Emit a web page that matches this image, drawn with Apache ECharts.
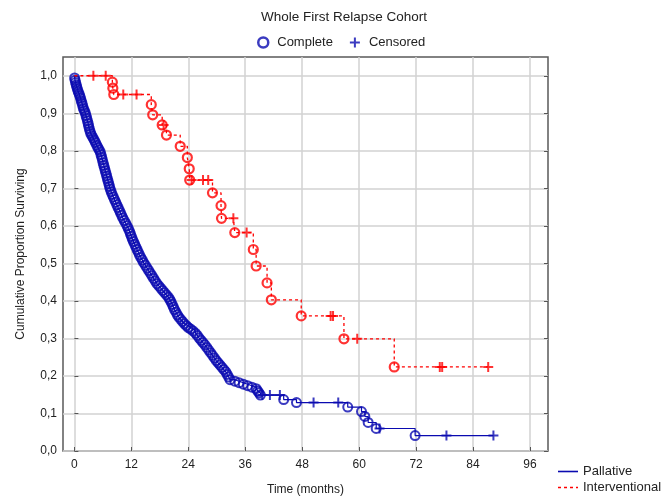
<!DOCTYPE html>
<html>
<head>
<meta charset="utf-8">
<script src="https://cdn.jsdelivr.net/npm/echarts@6/dist/echarts.min.js"></script>
<style>
  html, body { margin: 0; padding: 0; background: #fff; }
  #chart { width: 664px; height: 498px; }
</style>
</head>
<body>
<div id="chart"></div>
<script>
  // tick labels
  var xTicks = [0, 12, 24, 36, 48, 60, 72, 84, 96];
  var yTicks = [0, 0.1, 0.2, 0.3, 0.4, 0.5, 0.6, 0.7, 0.8, 0.9, 1.0];

  // Pallative group: [months, proportion surviving]
  var palliativeEvents = [
    [0.05, .994], [0.15, .988], [0.25, .982], [0.4, .976], [0.5, .970], [0.65, .964],
    [0.8, .958], [1.0, .952], [1.15, .946], [1.3, .940], [1.45, .933], [1.6, .927],
    [1.75, .920], [1.9, .913], [2.1, .907], [2.3, .901], [2.45, .894], [2.6, .887],
    [2.75, .880], [2.9, .873], [3.0, .866], [3.15, .859], [3.3, .852], [3.45, .846],
    [3.7, .840], [3.95, .834], [4.2, .828], [4.45, .822], [4.7, .815], [4.95, .809],
    [5.2, .803], [5.45, .797], [5.6, .790], [5.75, .783], [5.9, .776], [6.05, .768],
    [6.2, .761], [6.35, .754], [6.5, .747], [6.65, .740], [6.8, .733], [6.95, .726],
    [7.1, .719], [7.25, .712], [7.4, .705], [7.55, .698], [7.75, .691], [7.95, .684],
    [8.2, .677], [8.45, .670], [8.7, .663], [8.95, .656], [9.2, .649], [9.45, .642],
    [9.7, .635], [9.95, .628], [10.2, .621], [10.5, .614], [10.8, .607], [11.1, .600],
    [11.35, .593], [11.6, .586], [11.8, .579], [12.0, .572], [12.2, .565], [12.45, .558],
    [12.7, .551], [12.95, .544], [13.2, .537], [13.45, .530], [13.7, .523], [14.0, .516],
    [14.3, .509], [14.6, .502], [14.95, .495], [15.3, .488], [15.65, .481], [16.0, .474],
    [16.35, .467], [16.7, .460], [17.05, .453], [17.4, .446], [17.8, .440], [18.2, .434],
    [18.6, .428], [19.0, .422], [19.4, .416], [19.8, .410], [20.1, .404], [20.35, .398],
    [20.6, .391], [20.85, .384], [21.1, .377], [21.4, .370], [21.7, .363], [22.0, .357],
    [22.4, .351], [22.8, .345], [23.2, .339], [23.6, .334], [24.0, .329], [24.5, .325],
    [25.0, .320], [25.5, .314], [25.9, .308], [26.3, .301], [26.7, .295], [27.1, .289],
    [27.5, .283], [27.9, .276], [28.3, .269], [28.7, .262], [29.1, .255], [29.5, .248],
    [29.9, .241], [30.3, .235], [30.7, .229], [31.1, .223], [31.5, .217], [31.9, .211],
    [32.2, .204], [32.5, .197], [32.8, .190], [33.8, .186], [34.7, .182], [35.6, .178],
    [36.5, .174], [37.4, .170], [38.3, .166], [38.6, .160], [38.9, .155], [39.2, .149],
    [44.1, .137], [46.8, .129], [57.6, .117], [60.5, .105], [61.2, .092], [61.9, .076],
    [63.6, .060], [71.8, .041]
  ];
  var palliativeCensored = [
    [39.6, .149], [41.2, .149], [43.3, .149], [50.4, .129], [55.6, .129],
    [64.3, .060], [78.4, .041], [88.3, .041]
  ];

  // Interventional group
  var interventionalEvents = [
    [8.0, .983], [8.1, .967], [8.3, .950], [16.2, .923], [16.5, .896], [18.5, .869],
    [19.4, .842], [22.3, .812], [23.8, .782], [24.2, .752], [24.3, .722], [29.1, .688],
    [30.9, .654], [31.0, .620], [33.8, .582], [37.7, .537], [38.3, .493], [40.6, .448],
    [41.5, .403], [47.8, .360], [56.8, .299], [67.4, .224]
  ];
  var interventionalCensored = [
    [4.0, 1], [6.6, 1], [10.3, .950], [13.1, .950], [18.8, .869], [24.7, .722],
    [27.1, .722], [28.2, .722], [33.5, .620], [36.3, .582], [54.0, .360], [54.5, .360],
    [59.6, .299], [77.0, .224], [77.5, .224], [87.2, .224]
  ];

  var BLUE = '#0a0ab0';
  var RED = '#ff0000';
  var PLUS = 'path://M4,0H6V4H10V6H6V10H4V6H0V4H4Z';
  var SOLID_ICON = 'path://M0,0H20V1.6H0Z';
  var DASH_ICON = 'path://M0,0H3V1.6H0Z M6,0H9V1.6H6Z M12,0H15V1.6H12Z M18,0H20V1.6H18Z';
  var FONT = 'Liberation Sans, Arial, sans-serif';

  function kmLine(events, censored) {
    var pts = events.concat(censored).sort(function (a, b) { return a[0] - b[0]; });
    return [[0, 1]].concat(pts);
  }

  function comma(v) {
    return v.toFixed(1).replace('.', ',');
  }

  function lineLegend(name, icon, color, top) {
    return {
      left: 558,
      top: top,
      padding: 0,
      itemWidth: 20,
      itemHeight: 10,
      textStyle: { fontSize: 13, color: '#222', fontFamily: FONT },
      data: [{ name: name, icon: icon, itemStyle: { color: color, borderWidth: 0 } }]
    };
  }

  var chart = echarts.init(document.getElementById('chart'));

  chart.setOption({
    animation: false,
    backgroundColor: '#fff',
    textStyle: { fontFamily: FONT },
    title: {
      text: 'Whole First Relapse Cohort',
      left: 339,
      textAlign: 'center',
      top: 5,
      textStyle: { fontSize: 13.5, fontWeight: 'normal', color: '#222', fontFamily: FONT }
    },
    legend: [{
      top: 31,
      left: 252,
      itemWidth: 10,
      itemHeight: 10,
      itemGap: 17,
      textStyle: { fontSize: 13, color: '#222', fontFamily: FONT, padding: [0, 0, 0, 4] },
      data: [
        { name: 'Complete', icon: 'circle', itemStyle: { color: 'transparent', borderColor: BLUE, borderWidth: 2.5 } },
        { name: 'Censored', icon: PLUS, itemStyle: { color: BLUE, borderWidth: 0 } }
      ]
    },
      lineLegend('Pallative', SOLID_ICON, BLUE, 465),
      lineLegend('Interventional', DASH_ICON, RED, 481)
    ],
    grid: {
      left: 63,
      top: 57,
      right: 116,
      bottom: 47,
      outerBoundsMode: 'none',
      show: true,
      borderColor: '#5a5a5a',
      borderWidth: 1.5
    },
    xAxis: [{
      type: 'value',
      min: -2.4,
      max: 99.8,
      name: 'Time (months)',
      nameLocation: 'middle',
      nameGap: 33,
      nameTextStyle: { fontSize: 12, color: '#222', fontFamily: FONT },
      axisLine: { show: false },
      axisTick: { inside: true, length: 4, customValues: xTicks, lineStyle: { color: '#555' } },
      axisLabel: { customValues: xTicks, fontSize: 12, color: '#222', margin: 8, fontFamily: FONT },
      splitLine: { show: true, lineStyle: { color: '#d2d2d2', width: 1.5 } }
    }],
    yAxis: [{
      type: 'value',
      min: 0,
      max: 1.05,
      name: 'Cumulative Proportion Surviving',
      nameLocation: 'middle',
      nameGap: 36,
      nameTextStyle: { fontSize: 12, color: '#222', fontFamily: FONT },
      axisLine: { show: false },
      axisTick: { inside: true, length: 4, customValues: yTicks, lineStyle: { color: '#555' } },
      axisLabel: { customValues: yTicks, fontSize: 12, color: '#222', margin: 6, formatter: comma, fontFamily: FONT },
      splitLine: { show: true, lineStyle: { color: '#d2d2d2', width: 1.5 } }
    }, {
      type: 'value',
      position: 'right',
      min: 0,
      max: 1.05,
      axisLine: { show: false },
      axisTick: { inside: true, length: 4, customValues: yTicks, lineStyle: { color: '#555' } },
      axisLabel: { show: false },
      splitLine: { show: false }
    }],
    series: [{
      name: 'Pallative',
      type: 'line',
      step: 'end',
      symbol: 'none',
      data: kmLine(palliativeEvents, palliativeCensored),
      itemStyle: { color: BLUE },
      lineStyle: { color: BLUE, width: 1.2 }
    }, {
      name: 'Interventional',
      type: 'line',
      step: 'end',
      symbol: 'none',
      data: kmLine(interventionalEvents, interventionalCensored),
      itemStyle: { color: RED },
      lineStyle: { color: RED, width: 1.3, type: [3, 3] }
    }, {
      name: 'Complete',
      type: 'scatter',
      symbol: 'circle',
      symbolSize: 9,
      data: palliativeEvents,
      itemStyle: { color: 'transparent', borderColor: BLUE, borderWidth: 2 }
    }, {
      name: 'Censored',
      type: 'scatter',
      symbol: PLUS,
      symbolSize: 10,
      data: palliativeCensored,
      itemStyle: { color: BLUE }
    }, {
      name: 'Complete',
      type: 'scatter',
      symbol: 'circle',
      symbolSize: 9,
      data: interventionalEvents,
      itemStyle: { color: 'transparent', borderColor: RED, borderWidth: 2.2 }
    }, {
      name: 'Censored',
      type: 'scatter',
      symbol: PLUS,
      symbolSize: 10,
      data: interventionalCensored,
      itemStyle: { color: RED }
    }]
  });
</script>
</body>
</html>
